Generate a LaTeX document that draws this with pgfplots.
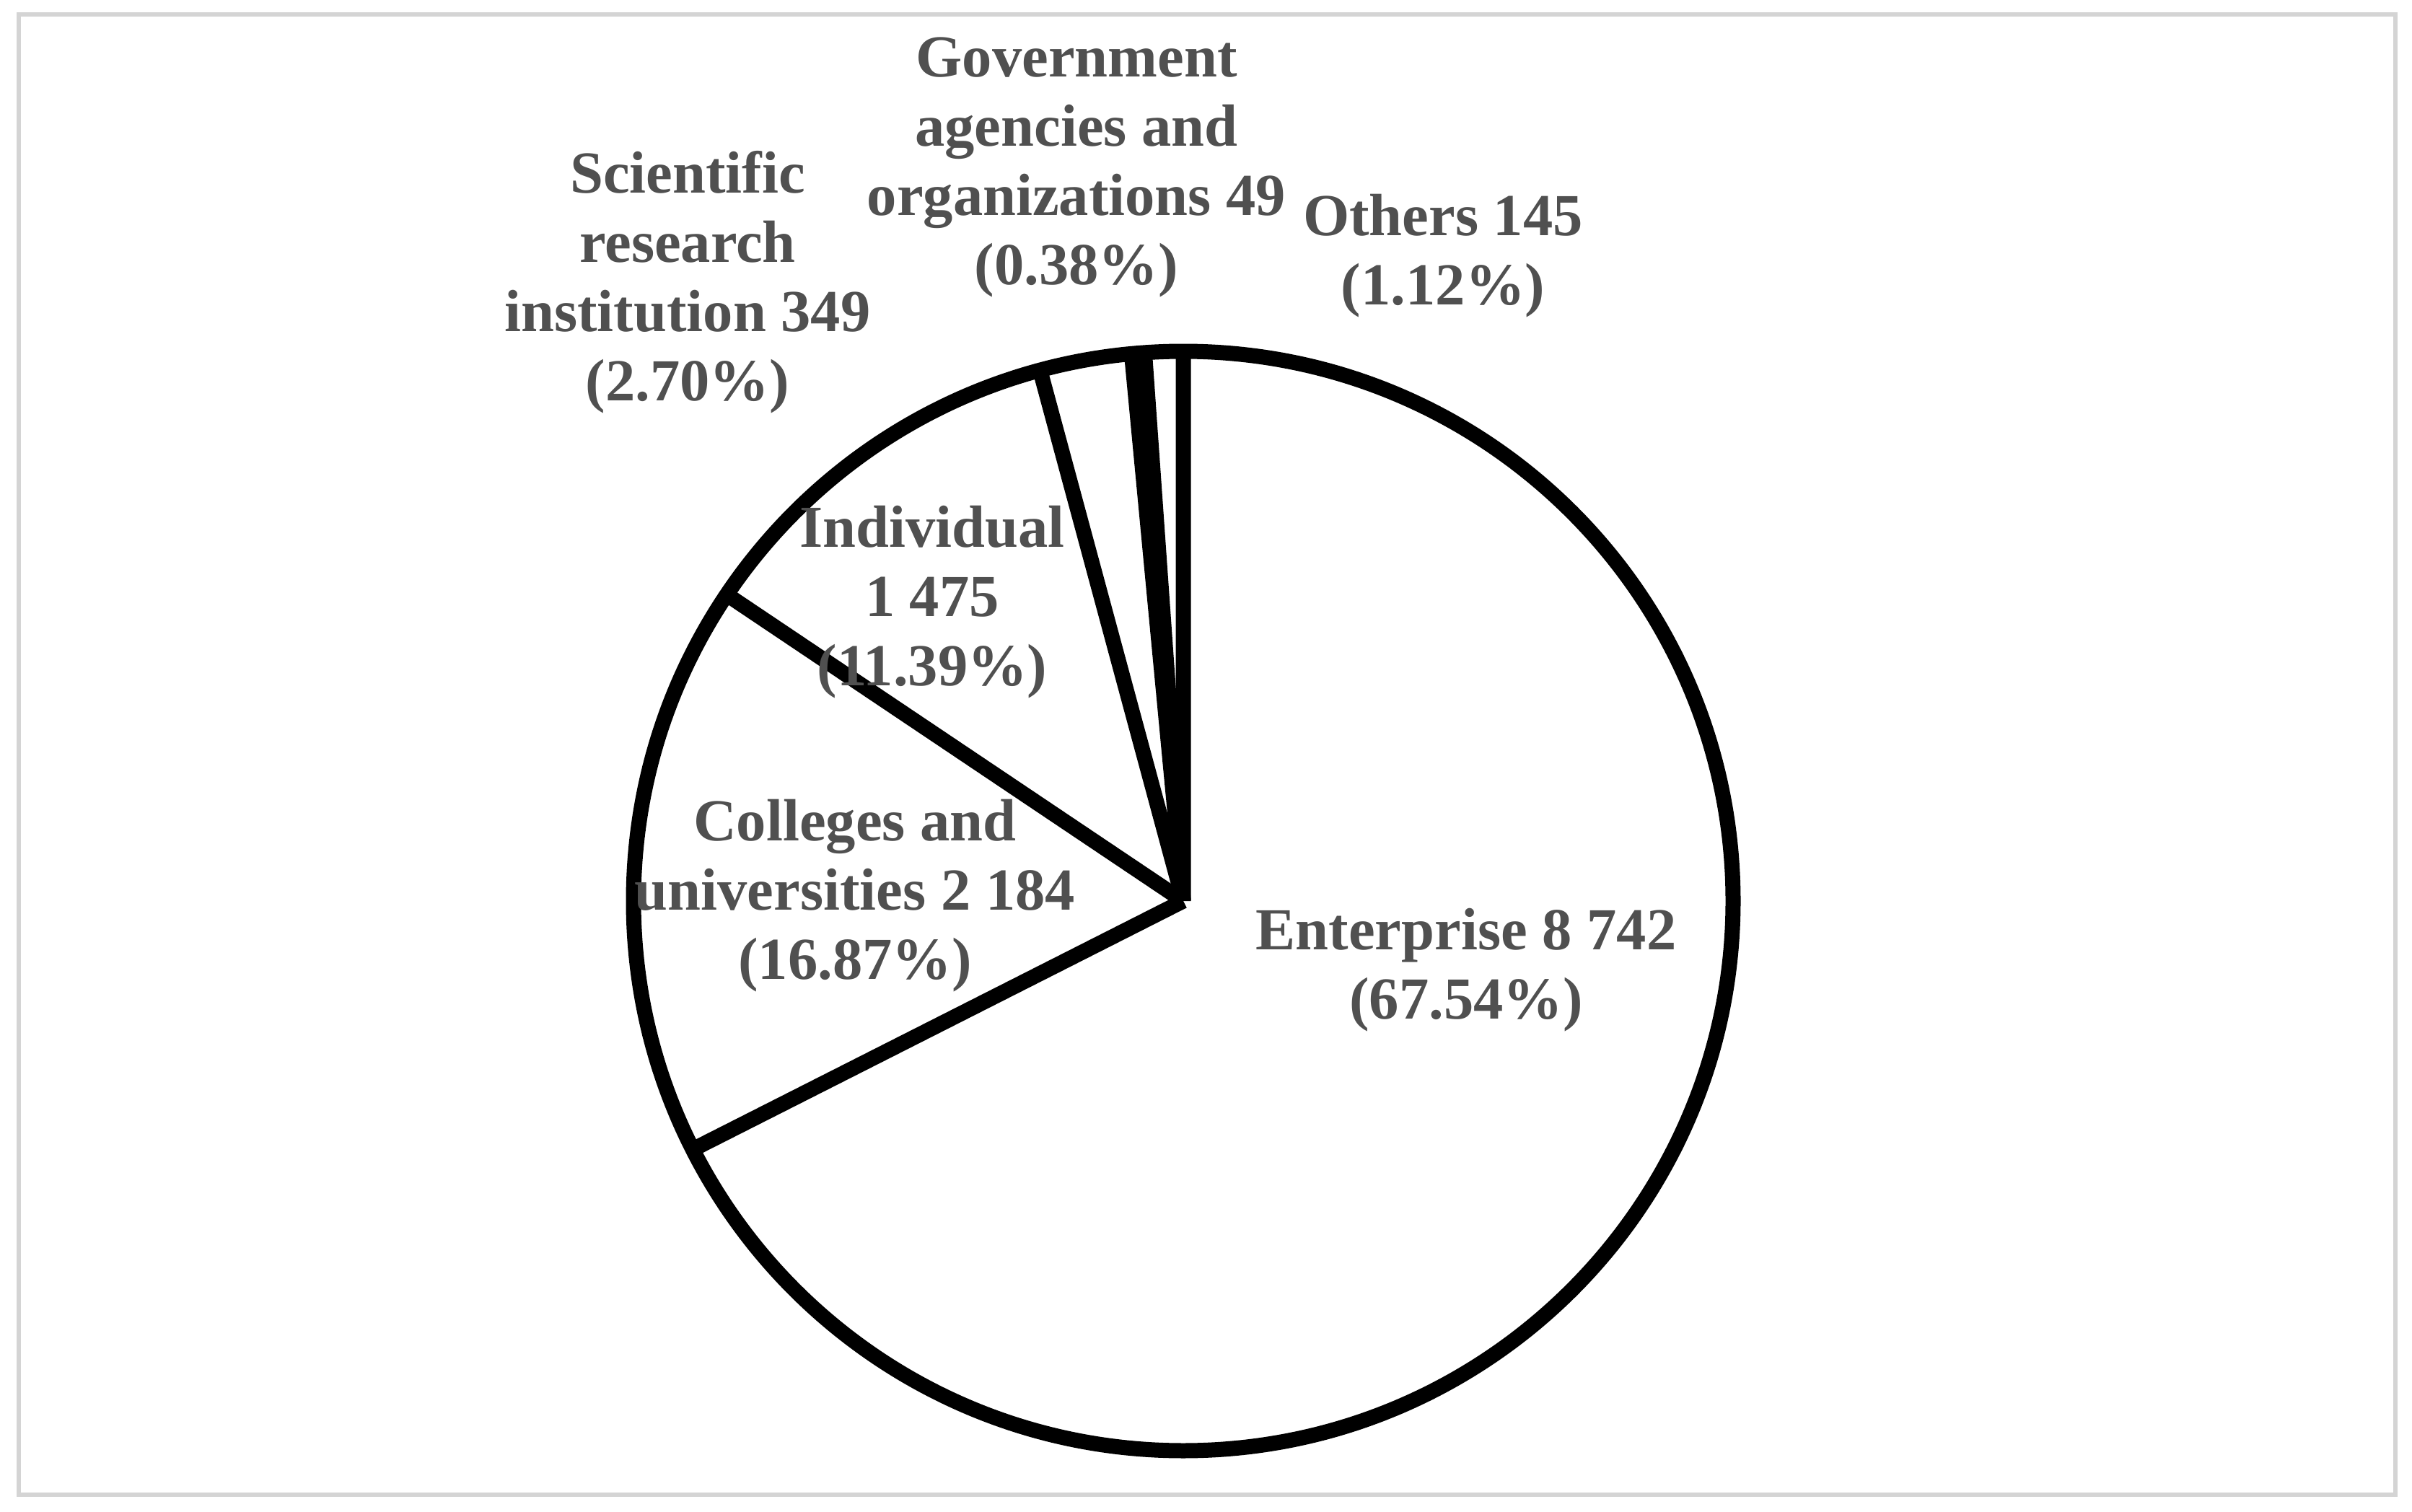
\documentclass[border=0pt]{standalone}
\usepackage{pgfplots}
\usepackage{pgfplotstable}
\pgfplotsset{compat=1.18}
\usepackage{fontspec}
\setmainfont{Liberation Serif}
\definecolor{labelgray}{RGB}{80,80,80}
\definecolor{framegray}{RGB}{212,212,212}

% counts per applicant type, clockwise from 12 o'clock
\pgfplotstableread{
name value
Enterprise 8742
Colleges 2184
Individual 1475
Scientific 349
Government 49
Others 145
}\piedata
\pgfplotstablecreatecol[create col/expr accum={\pgfmathaccuma + \thisrow{value}}{0}]{cum}\piedata

\tikzset{lbl/.style={font=\fontsize{11.75}{13.65}\selectfont\bfseries,
  text=labelgray, align=center, inner sep=0pt}}

\begin{document}
\begin{tikzpicture}
  \begin{axis}[width=16.715cm, height=10.475cm, scale only axis,
    xmin=0, xmax=3343, ymin=0, ymax=2095, hide axis, clip=false]
    \path (axis cs:0,0) rectangle (axis cs:3343,2095);
    \draw[framegray, line width=0.03cm] (axis cs:26,2075) rectangle (axis cs:3320,23);
    % slice boundaries
    \addplot[black, line width=0.105cm,
      quiver={u={762*cos(90-360*\thisrow{cum}/12944)},
              v={762*sin(90-360*\thisrow{cum}/12944)},
              every arrow/.append style={line width=0.105cm}}]
      table[x expr=1640, y expr=846]{\piedata};
    \draw[black, line width=0.105cm] (axis cs:1640,846) circle[radius=762];
    % labels
    \node[lbl] at (axis cs:1492,1863) {Government\\agencies and\\organizations 49\\(0.38\%)};
    \node[lbl] at (axis cs:953,1704) {Scientific\\research\\institution 349\\(2.70\%)};
    \node[lbl] at (axis cs:2000,1740) {Others 145\\(1.12\%)};
    \node[lbl] at (axis cs:1292,1260) {Individual\\1 475\\(11.39\%)};
    \node[lbl] at (axis cs:1185,853) {Colleges and\\universities 2 184\\(16.87\%)};
    \node[lbl] at (axis cs:2032,750) {Enterprise 8 742\\(67.54\%)};
  \end{axis}
\end{tikzpicture}
\end{document}
